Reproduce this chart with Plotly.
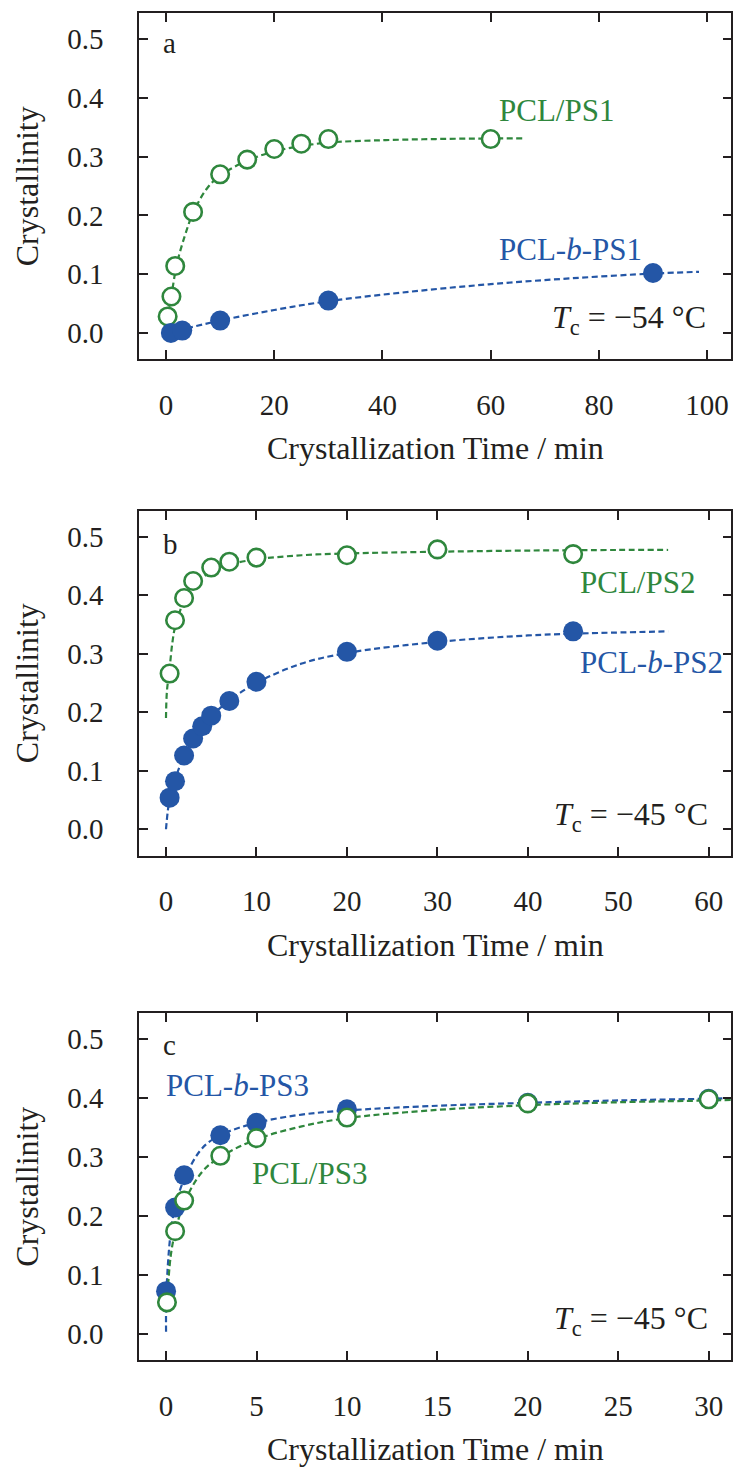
import plotly.graph_objects as go

# ---- Panel a: Tc = -54 °C ----
a_blend_t = [0.3, 1, 1.7, 5, 10, 15, 20, 25, 30, 60]
a_blend_x = [0.028, 0.062, 0.114, 0.206, 0.270, 0.295, 0.313, 0.322, 0.330, 0.330]
a_block_t = [0.9, 3, 10, 30, 90]
a_block_x = [0.000, 0.004, 0.021, 0.055, 0.102]
a_blend_fit_t = [0.3, 1, 2, 3.5, 5, 7.5, 10, 15, 20, 25, 30, 40, 50, 60, 66]
a_blend_fit_x = [0.028, 0.064, 0.117, 0.166, 0.204, 0.245, 0.268, 0.293, 0.309, 0.318, 0.324, 0.328, 0.330, 0.331, 0.331]
a_block_fit_t = [0.5, 3, 10, 20, 30, 45, 60, 75, 90, 98.5]
a_block_fit_x = [0.000, 0.006, 0.021, 0.039, 0.054, 0.070, 0.083, 0.093, 0.101, 0.104]

# ---- Panel b: Tc = -45 °C ----
b_blend_t = [0.4, 1, 2, 3, 5, 7, 10, 20, 30, 45]
b_blend_x = [0.266, 0.357, 0.395, 0.424, 0.447, 0.457, 0.464, 0.468, 0.478, 0.470]
b_block_t = [0.4, 1, 2, 3, 4, 5, 7, 10, 20, 30, 45]
b_block_x = [0.054, 0.082, 0.126, 0.155, 0.176, 0.194, 0.219, 0.252, 0.303, 0.322, 0.338]
b_blend_fit_t = [0.0, 0.1, 0.4, 0.7, 1, 2, 3, 5, 7, 10, 15, 20, 30, 40, 50, 55.5]
b_blend_fit_x = [0.190, 0.235, 0.275, 0.318, 0.345, 0.390, 0.415, 0.440, 0.452, 0.461, 0.468, 0.471, 0.474, 0.476, 0.477, 0.477]
b_block_fit_t = [0.0, 0.4, 1, 2, 3, 4, 5, 7, 10, 15, 20, 30, 40, 45, 55.5]
b_block_fit_x = [0.000, 0.052, 0.085, 0.125, 0.153, 0.175, 0.193, 0.220, 0.250, 0.283, 0.301, 0.320, 0.331, 0.334, 0.338]

# ---- Panel c: Tc = -45 °C ----
c_blend_t = [0.05, 0.5, 1, 3, 5, 10, 20, 30]
c_blend_x = [0.053, 0.174, 0.226, 0.302, 0.332, 0.367, 0.391, 0.398]
c_block_t = [0, 0.5, 1, 3, 5, 10, 20, 30]
c_block_x = [0.072, 0.214, 0.269, 0.337, 0.358, 0.381, 0.392, 0.399]
c_blend_fit_t = [0.05, 0.25, 0.5, 1, 2, 3, 5, 7.5, 10, 15, 20, 25, 30, 31.3]
c_blend_fit_x = [0.050, 0.130, 0.172, 0.222, 0.275, 0.300, 0.330, 0.352, 0.366, 0.380, 0.388, 0.393, 0.396, 0.397]
c_block_fit_t = [0.0, 0.02, 0.25, 0.5, 1, 2, 3, 5, 7.5, 10, 15, 20, 25, 30, 31.3]
c_block_fit_x = [0.003, 0.070, 0.170, 0.215, 0.262, 0.315, 0.337, 0.358, 0.372, 0.379, 0.387, 0.392, 0.396, 0.399, 0.400]

x_ranges = [[-4.94, 104.5], [-2.95, 62.5], [-1.48, 31.26]]
x_dticks = [20, 10, 5]
y_domains = [[0.7567, 0.991], [0.4207, 0.6542], [0.0792, 0.3139]]
y_range = [-0.045, 0.544]
y_ticks = [0.0, 0.1, 0.2, 0.3, 0.4, 0.5]
y_ticklabels = ["0.0", "0.1", "0.2", "0.3", "0.4", "0.5"]

panel_letters = ["a", "b", "c"]
tc_labels = ["\u221254 \u00b0C", "\u221245 \u00b0C", "\u221245 \u00b0C"]

GREEN = "#2f873d"
BLUE = "#2456a6"
INK = "#231f20"
FONT = "Liberation Serif"
FS_TICK = 29
FS_TITLE = 32
FS_LABEL = 31

fig = go.Figure()


def add_panel(i, blend_t, blend_x, block_t, block_x, bft, bfx, kft, kfx, block_first):
    xa = "x" if i == 0 else f"x{i + 1}"
    ya = "y" if i == 0 else f"y{i + 1}"
    dash = dict(width=2.2, dash="6px,3.5px")
    fig.add_trace(go.Scatter(x=kft, y=kfx, mode="lines", line=dict(color=BLUE, shape="spline", **dash),
                             xaxis=xa, yaxis=ya, showlegend=False, hoverinfo="skip"))
    fig.add_trace(go.Scatter(x=bft, y=bfx, mode="lines", line=dict(color=GREEN, shape="spline", **dash),
                             xaxis=xa, yaxis=ya, showlegend=False, hoverinfo="skip"))
    block = go.Scatter(x=block_t, y=block_x, mode="markers", xaxis=xa, yaxis=ya, showlegend=False,
                       marker=dict(symbol="circle", size=20, color=BLUE, line=dict(width=0)))
    blend = go.Scatter(x=blend_t, y=blend_x, mode="markers", xaxis=xa, yaxis=ya, showlegend=False,
                       marker=dict(symbol="circle", size=17.5, color="white", line=dict(width=2.6, color=GREEN)))
    if block_first:
        fig.add_trace(block)
        fig.add_trace(blend)
    else:
        fig.add_trace(blend)
        fig.add_trace(block)


add_panel(0, a_blend_t, a_blend_x, a_block_t, a_block_x, a_blend_fit_t, a_blend_fit_x,
          a_block_fit_t, a_block_fit_x, block_first=False)
add_panel(1, b_blend_t, b_blend_x, b_block_t, b_block_x, b_blend_fit_t, b_blend_fit_x,
          b_block_fit_t, b_block_fit_x, block_first=False)
add_panel(2, c_blend_t, c_blend_x, c_block_t, c_block_x, c_blend_fit_t, c_blend_fit_x,
          c_block_fit_t, c_block_fit_x, block_first=True)

axis_common = dict(showline=True, linecolor=INK, linewidth=1.8, mirror="ticks", ticks="inside",
                   ticklen=9, tickwidth=1.5, tickcolor=INK, showgrid=False, zeroline=False,
                   tickfont=dict(family=FONT, size=FS_TICK, color=INK))

layout = dict(width=737, height=1477, margin=dict(l=0, r=0, t=0, b=0),
              paper_bgcolor="white", plot_bgcolor="white", showlegend=False)

for i in range(3):
    sx = "" if i == 0 else str(i + 1)
    layout["xaxis" + sx] = dict(axis_common, domain=[0.189, 0.9925], range=x_ranges[i],
                                tick0=0, dtick=x_dticks[i], anchor="y" + sx,
                                ticklabelstandoff=19,
                                title=dict(text="Crystallization Time / min", standoff=17,
                                           font=dict(family=FONT, size=FS_TITLE, color=INK)))
    layout["yaxis" + sx] = dict(axis_common, domain=y_domains[i], range=y_range,
                                tickvals=y_ticks, ticktext=y_ticklabels, anchor="x" + sx,
                                ticklabelstandoff=28,
                                title=dict(text="Crystallinity", standoff=19,
                                           font=dict(family=FONT, size=FS_TITLE, color=INK)))

fig.update_layout(**layout)

ann = []


def label(i, text, x, y, color, xanchor="left", size=FS_LABEL):
    xr = "x" if i == 0 else f"x{i + 1}"
    yr = "y" if i == 0 else f"y{i + 1}"
    ann.append(dict(text=text, x=x, y=y, xref=xr, yref=yr, xanchor=xanchor, yanchor="middle",
                    showarrow=False, font=dict(family=FONT, size=size, color=color)))


# panel letters
label(0, "a", -1.0, 0.494, INK, size=FS_TICK)
label(1, "b", -0.6, 0.487, INK, size=FS_TICK)
label(2, "c", -0.3, 0.491, INK, size=FS_TICK)

# series labels
label(0, "PCL/PS1", 61.2, 0.378, GREEN)
label(0, "PCL-<i>b</i>-PS1", 61.2, 0.142, BLUE)
label(1, "PCL/PS2", 45.5, 0.4216, GREEN)
label(1, "PCL-<i>b</i>-PS2", 45.5, 0.285, BLUE)
label(2, "PCL-<i>b</i>-PS3", -0.1, 0.422, BLUE)
label(2, "PCL/PS3", 4.66, 0.272, GREEN)

# crystallization temperatures
tc_x = [100.2, 60.15, 30.08]
for i in range(3):
    label(i, "<i>T</i><sub>c</sub> = " + tc_labels[i], tc_x[i], 0.022, INK, xanchor="right", size=32)

fig.update_layout(annotations=ann)
fig.write_html("out.html")
